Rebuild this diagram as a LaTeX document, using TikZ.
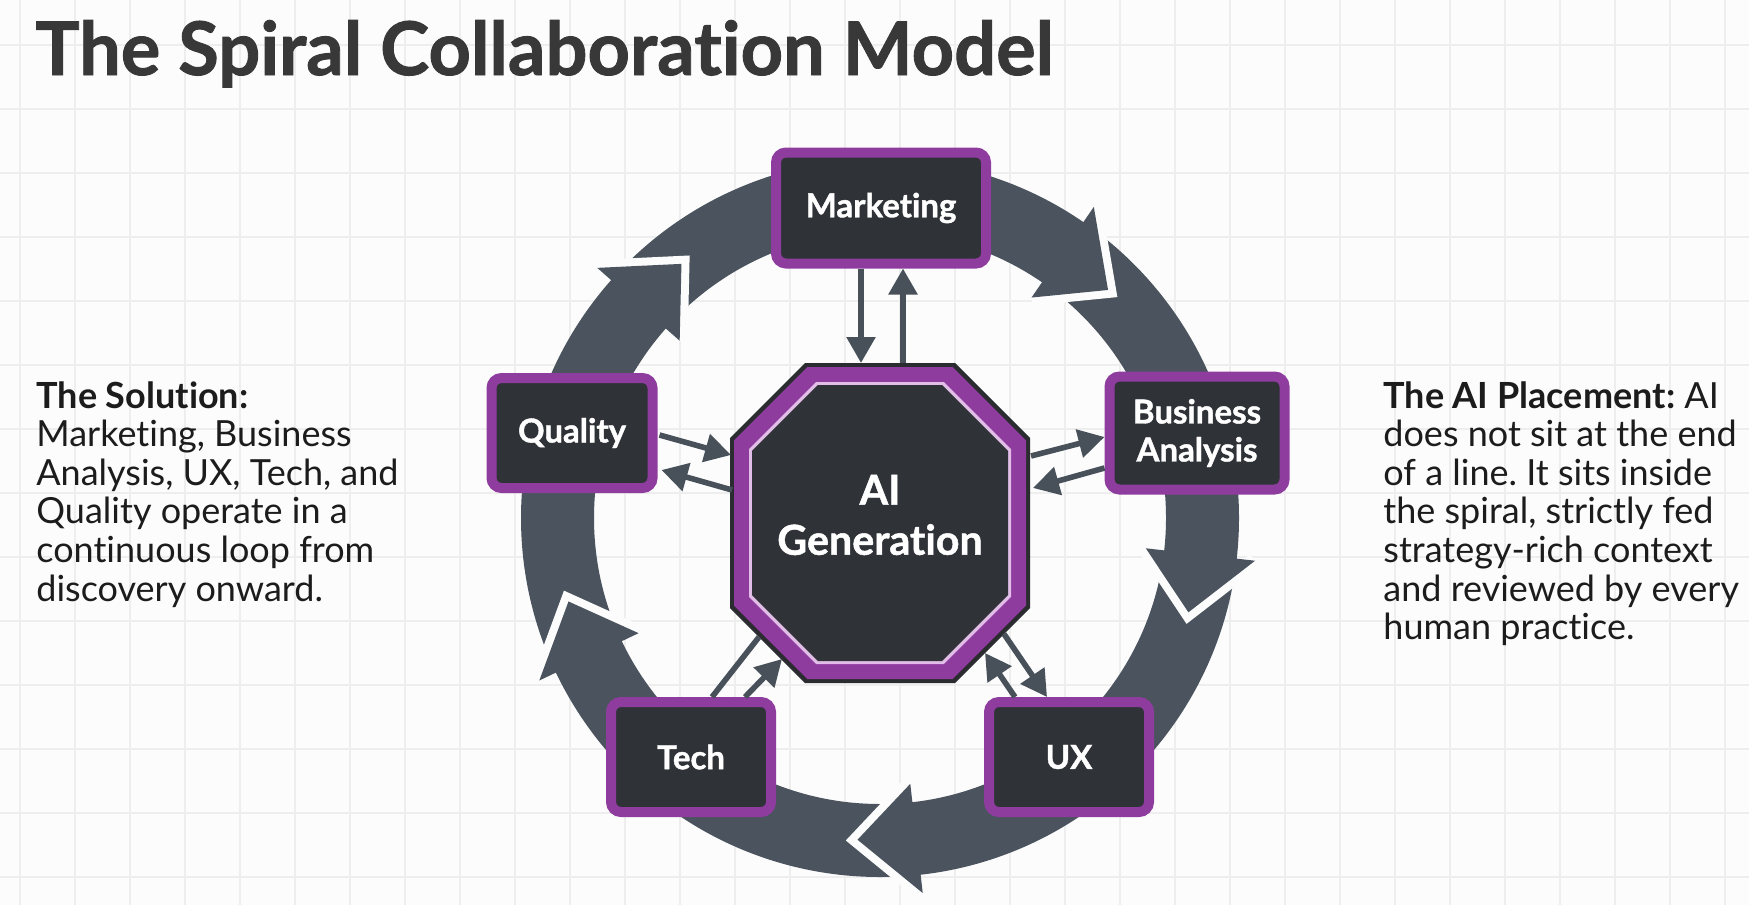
\documentclass[tikz,border=0pt]{standalone}
\usepackage{fontspec}
\setmainfont{Lato}[Ligatures=NoCommon]
\newfontfamily\heavyfont{Lato}[Ligatures=NoCommon, BoldFeatures={FakeBold=1.2}]
\usetikzlibrary{arrows.meta,calc}
\definecolor{ringc}{HTML}{4B545E}
\definecolor{boxfill}{HTML}{2F3237}
\definecolor{purp}{HTML}{8E3C9E}
\definecolor{pinkl}{HTML}{E2BDE8}
\definecolor{octedge}{HTML}{2A2C30}
\definecolor{connc}{HTML}{48515A}
\definecolor{titlec}{HTML}{383838}
\definecolor{bodyc}{HTML}{1C1C1C}
\definecolor{gridc}{HTML}{EEEEEE}
\definecolor{bgc}{HTML}{FCFCFC}
\newcommand\octfill[4]{\fill[#1] ({880-#2+#4},{523-#3}) -- ({880+#2-#4},{523-#3}) -- ({880+#2},{523-#3+#4}) -- ({880+#2},{523+#3-#4}) -- ({880+#2-#4},{523+#3}) -- ({880-#2+#4},{523+#3}) -- ({880-#2},{523+#3-#4}) -- ({880-#2},{523-#3+#4}) -- cycle;}
\tikzset{
  gridline/.style={draw=gridc, line width=0.6pt},
  pbox/.style={draw=purp, line width=5pt, fill=boxfill, rounded corners=5pt, text=white,
    font=\heavyfont\bfseries\fontsize{16.5}{19}\selectfont, align=center, inner sep=0pt},
  conn/.style={draw=connc, line width=2.8pt, -{Triangle[length=13pt,width=14pt]}},
  connline/.style={draw=connc, line width=2.8pt},
  bodytext/.style={anchor=north west, align=left, inner sep=0pt, text=bodyc,
    font=\fontsize{18}{19.3}\selectfont},
}
\frenchspacing
\begin{document}
\begin{tikzpicture}[x=0.5pt,y=-0.5pt]
% background and grid
\fill[bgc] (0,0) rectangle (1749,905);
\useasboundingbox (0,0) rectangle (1749,905);
\foreach \gx in {20,75,...,1749} \draw[gridline] (\gx,0) -- (\gx,905);
\foreach \gy in {45,109,...,905} \draw[gridline] (0,\gy) -- (1749,\gy);

% ring
\fill[ringc,even odd rule] (880,518) circle[radius=179.5pt] (880,518) circle[radius=143pt];
\foreach \t in {45,-17,-94,-165,128} {
  \pgfmathsetmacro\b{\t+10.5}
  \coordinate (tip) at ({880+322.5*cos(\t)},{518-322.5*sin(\t)});
  \coordinate (bo) at ({880+377.5*cos(\b)},{518-377.5*sin(\b)});
  \coordinate (bi) at ({880+267.5*cos(\b)},{518-267.5*sin(\b)});
  \draw[bgc,line width=8pt,line join=miter] (bo) -- (tip) -- (bi);
  \fill[ringc] (bo) -- (tip) -- (bi) -- cycle;
}

% octagon
\octfill{octedge}{150}{160}{75}
\octfill{purp}{146}{156}{73.3}
\octfill{pinkl}{131}{141}{67.1}
\octfill{boxfill}{128}{138}{65.9}
\node[minimum width=150pt, minimum height=160pt, inner sep=0pt, outer sep=0pt] (ai) at (880,523) {};
\node[text=white, align=center, font=\heavyfont\bfseries\fontsize{20.6}{25}\selectfont, inner sep=0pt] (ailabel) at (880,515) {AI\\Generation};

% boxes
\node[pbox, minimum width=105pt, minimum height=55.5pt] (mkt) at (881,208) {Marketing};
\node[pbox, minimum width=87.5pt, minimum height=56.5pt] (ba) at (1197,433) {Business\\Analysis};
\node[pbox, minimum width=80.5pt, minimum height=55pt] (qual) at (572,433) {Quality};
\node[pbox, minimum width=80pt, minimum height=55pt] (tech) at (691,757) {Tech};
\node[pbox, minimum width=80pt, minimum height=55pt] (ux) at (1069,757) {UX};

% connectors
\draw[conn] ($(mkt.south)+(-20,0)$) -- ($(ai.north)+(-19,0)$);
\draw[conn] ($(ai.north)+(23,0)$) -- ($(mkt.south)+(22,0)$);
\draw[conn] ($(qual.east)+(2,2)$) -- ($(ai.west)+(1,-68)$);
\draw[conn] ($(ai.west)+(2,-33)$) -- ($(qual.east)+(4,37)$);
\draw[conn] ($(ai.east)+(1,-67)$) -- ($(ba.west)+(0,4)$);
\draw[conn] ($(ba.west)+(0,35)$) -- ($(ai.east)+(3,-35)$);
\draw[connline] ($(tech.north)+(21,0)$) -- ($(ai.center)+(-121,114)$);
\draw[conn] ($(tech.north)+(54,0)$) -- ($(ai.center)+(-98,136)$);
\draw[conn] ($(ux.north)+(-54,0)$) -- ($(ai.center)+(105,130)$);
\draw[conn] ($(ai.center)+(124,111)$) -- ($(ux.north)+(-22,0)$);

% texts
\node[anchor=base west, inner sep=0pt, text=titlec, font=\heavyfont\bfseries\fontsize{37}{40}\selectfont] (title) at (35,75) {The Spiral Collaboration Model};
\node[bodytext] (soltxt) at (36,381) {\textbf{The Solution:}\\Marketing, Business\\Analysis, UX, Tech, and\\Quality operate in a\\continuous loop from\\discovery onward.};
\node[bodytext] (aitxt) at (1383,381) {\textbf{The AI Placement:} AI\\does not sit at the end\\of a line. It sits inside\\the spiral, strictly fed\\strategy-rich context\\and reviewed by every\\human practice.};
\end{tikzpicture}
\end{document}
